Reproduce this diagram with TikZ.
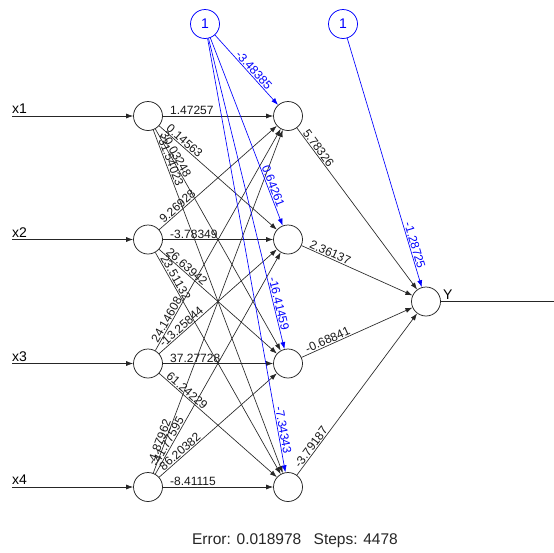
\documentclass[tikz,border=0pt]{standalone}
\usepackage{fontspec}
\setmainfont{Liberation Sans}
\usetikzlibrary{arrows.meta,calc}
\newcommand{\wconn}[3]{\draw[conn] (#1) -- (#2); \path ($(#1)!21pt!(#2)$) -- (#2) node[pos=0,wlab]{#3};}
\newcommand{\bconn}[3]{\draw[bconn] (#1) -- (#2); \path (#1) -- ($(#2)!32pt!(#1)$) node[pos=1,blab]{#3};}
\begin{document}
\begin{tikzpicture}[x=1pt,y=-1pt,
  neuron/.style={circle,draw=black!85,fill=white,minimum size=29pt,inner sep=0pt,line width=0.75pt},
  biasnode/.style={circle,draw=blue,fill=white,minimum size=29pt,inner sep=0pt,line width=0.75pt,text=blue,font=\fontsize{14}{14}\selectfont},
  conn/.style={draw=black!85,line width=0.65pt,-{Latex[length=7pt,width=5pt]}},
  bconn/.style={draw=blue,line width=0.65pt,-{Latex[length=7pt,width=5pt]}},
  wlab/.style={font=\fontsize{12}{12}\selectfont,inner sep=1pt,sloped,anchor=south west,text=black!90},
  blab/.style={font=\fontsize{12}{12}\selectfont,inner sep=1pt,sloped,anchor=south east,text=blue},
  inlab/.style={font=\fontsize{14}{14}\selectfont,inner sep=0pt,anchor=base west}
]
\useasboundingbox (0,0) rectangle (554,552);
\fill[white] (0,0) rectangle (554,552);
% nodes
\node[neuron] (I1) at (148,116) {};
\node[neuron] (I2) at (148,239.5) {};
\node[neuron] (I3) at (148,363.5) {};
\node[neuron] (I4) at (148,487) {};
\node[neuron] (H1) at (288,116) {};
\node[neuron] (H2) at (288,239.5) {};
\node[neuron] (H3) at (288,363.5) {};
\node[neuron] (H4) at (288,487) {};
\node[neuron] (O) at (426,301.5) {};
\node[biasnode] (B1) at (205,24) {1};
\node[biasnode] (B2) at (343,24) {1};
% input lines
\coordinate (s1) at (12,116);
\coordinate (s2) at (12,239.5);
\coordinate (s3) at (12,363.5);
\coordinate (s4) at (12,487);
\coordinate (e) at (554,301.5);
\draw[conn] (s1) -- (I1);
\draw[conn] (s2) -- (I2);
\draw[conn] (s3) -- (I3);
\draw[conn] (s4) -- (I4);
\draw[draw=black!85,line width=0.65pt] (O) -- (e);
\node[inlab] (lx1) at (12,113.5) {x1};
\node[inlab] (lx2) at (12,237) {x2};
\node[inlab] (lx3) at (12,361) {x3};
\node[inlab] (lx4) at (12,484.5) {x4};
\node[inlab] (ly) at (443,299) {Y};
% input -> hidden
\wconn{I1}{H1}{1.47257}
\wconn{I1}{H2}{0.14563}
\wconn{I1}{H3}{30.03248}
\wconn{I1}{H4}{-31.54023}
\wconn{I2}{H1}{9.26928}
\wconn{I2}{H2}{-3.78349}
\wconn{I2}{H3}{26.63942}
\wconn{I2}{H4}{23.51132}
\wconn{I3}{H1}{24.14608}
\wconn{I3}{H2}{-13.25844}
\wconn{I3}{H3}{37.27728}
\wconn{I3}{H4}{61.24229}
\wconn{I4}{H1}{-4.87962}
\wconn{I4}{H2}{-41.77595}
\wconn{I4}{H3}{86.20382}
\wconn{I4}{H4}{-8.41115}
% hidden -> output
\wconn{H1}{O}{5.78326}
\wconn{H2}{O}{2.36137}
\wconn{H3}{O}{-0.68841}
\wconn{H4}{O}{-3.79187}
% biases
\bconn{B1}{H1}{-3.48385}
\bconn{B1}{H2}{0.64261}
\bconn{B1}{H3}{-16.41459}
\bconn{B1}{H4}{-7.34343}
\bconn{B2}{O}{-1.28725}
% footer
\node[font=\fontsize{15.5}{16}\selectfont,text=black!85] (err) at (295,541) {Error: 0.018978\hspace{0.8em}Steps: 4478};
\end{tikzpicture}
\end{document}
